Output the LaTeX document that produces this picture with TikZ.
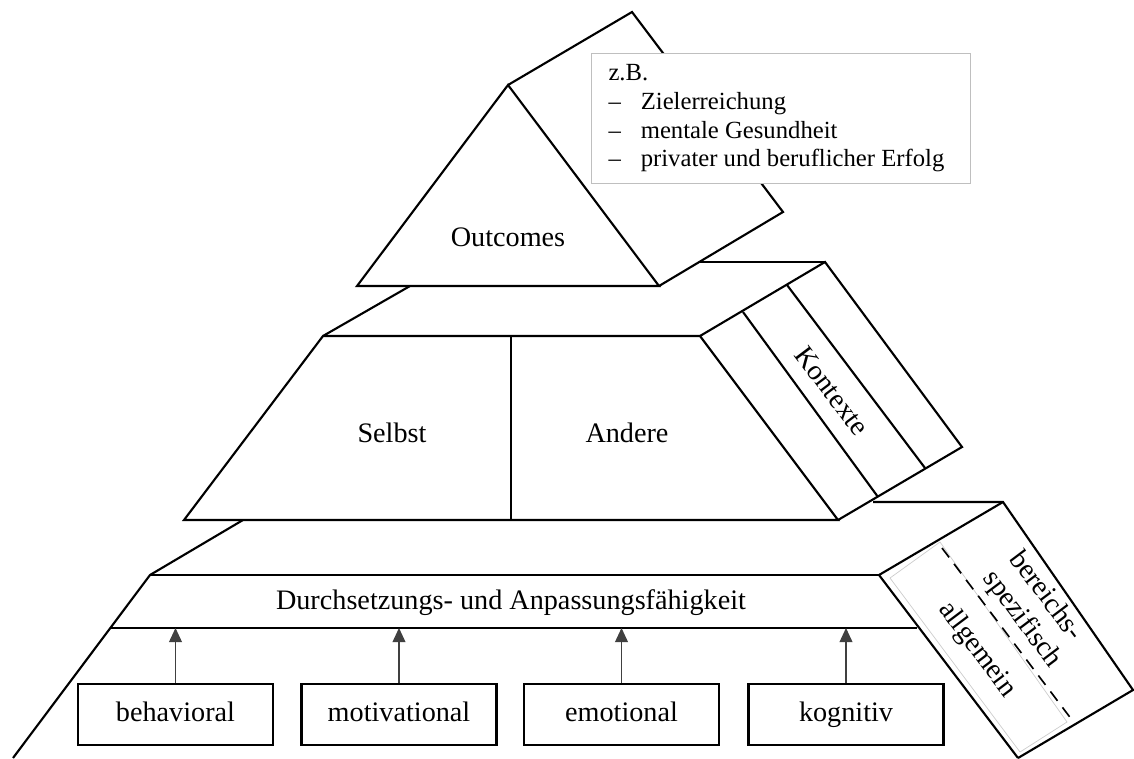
\documentclass[tikz,border=0pt]{standalone}
\usepackage{fontspec}
\setmainfont{Liberation Serif}
\usetikzlibrary{arrows.meta}

\begin{document}
\begin{tikzpicture}[x=0.4255pt, y=-0.4255pt, line join=miter,
    font=\fontsize{12}{14}\selectfont,
    kante/.style={line width=0.9pt},
    kasten/.style={draw, line width=0.9pt, minimum width=83pt, minimum height=26pt,
        inner sep=0pt, text height=8.5pt, text depth=2.6pt},
    pfeil/.style={line width=0.45pt, black!75, -{Triangle[width=5.5pt,length=6pt]}},
    schraeg/.style={rotate=-53, align=center, inner sep=0pt}]
    \useasboundingbox (0,0) rectangle (1134,758);
    % Spitze
    \draw[kante] (508,85) -- (632,12) -- (783,212) -- (659,286);
    \draw[kante] (357,286) -- (508,85) -- (659,286) -- cycle;
    \node (outc) at (508,237) {Outcomes};
    \node[draw=black!25, line width=0.5pt, fill=white, anchor=north west,
          font=\fontsize{10.5}{12.2}\selectfont, align=flush left, text width=146.9pt,
          minimum height=55.3pt, inner xsep=7.2pt, inner ysep=3.2pt] (bsp) at (591,53)
        {z.B.\\
         --\hspace{8.5pt}Zielerreichung\\
         --\hspace{8.5pt}mentale Gesundheit\\
         --\hspace{8.5pt}privater und beruflicher Erfolg};
    % Mitte
    \draw[kante] (410,286) -- (323,336);
    \draw[kante] (700,262) -- (825,262);
    \draw[kante] (323,336) -- (184,520) -- (838,520) -- (700,336) -- cycle;
    \draw[kante] (511,336) -- (511,520);
    \node (selbst) at (392,433) {Selbst};
    \node (andere) at (627,433) {Andere};
    \draw[kante] (700,336) -- (825,262) -- (962,447) -- (838,520);
    \draw[kante] (743,312) -- (878,497);
    \draw[kante] (787,285) -- (925,468);
    \node[schraeg] (kont) at (832,391) {Kontexte};
    % Basis
    \draw[kante] (243,520) -- (150,575) -- (13,758);
    \draw[kante] (150,575) -- (879,575);
    \coordinate (dfl) at (111,628);
    \draw[kante] (dfl) -- (917,628);
    \node (durch) at (511,603) {Durchsetzungs- und Anpassungsfähigkeit};
    \draw[kante] (873,502) -- (1003,502) -- (1133,690) -- (1018,758);
    \draw[kante] (879,575) -- (1003,502);
    \draw[kante] (879,575) -- (1018,758);
    \draw[black!20, line width=0.3pt] (890,578) -- (940,542) -- (1067,722) -- (1020,752) -- cycle;
    \draw[line width=0.7pt, dash pattern=on 5pt off 3.5pt] (942,548) -- (1072,720);
    \node[schraeg, align=flush left] (bereich) at (1035,610) {bereichs-\\spezifisch};
    \node[schraeg] (allg) at (977,650) {allgemein};
    % Komponenten
    \node[kasten] (beh) at (175.5,714.5) {behavioral};
    \node[kasten] (mot) at (399,714.5) {motivational};
    \node[kasten] (emo) at (621.5,714.5) {emotional};
    \node[kasten] (kog) at (846,714.5) {kognitiv};
    \foreach \k in {beh,mot,emo,kog}
        \draw[pfeil] (\k.north) -- (\k.north |- dfl);
\end{tikzpicture}
\end{document}
